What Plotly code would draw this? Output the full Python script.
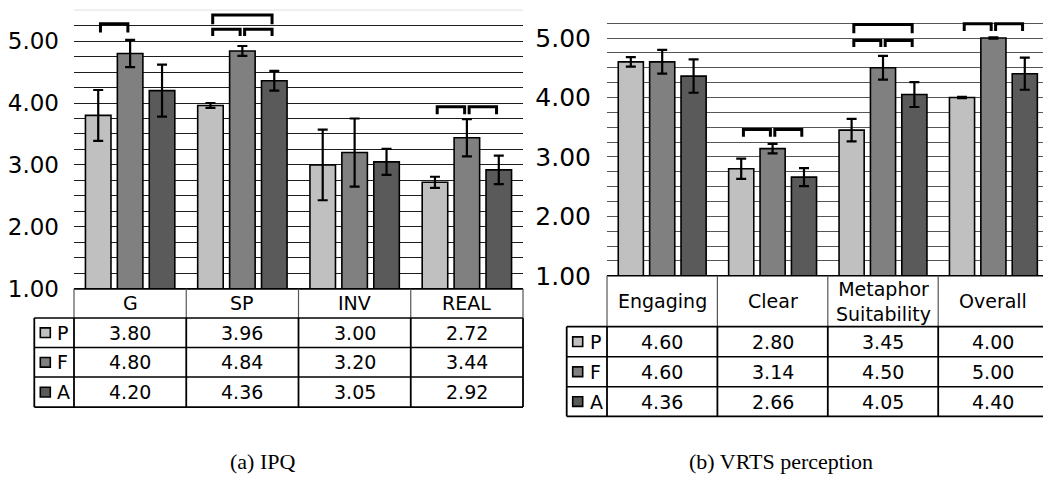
import numpy as np
import plotly.graph_objects as go

W, H = 1043, 489

# ---------------- data ----------------
series = ["P", "F", "A"]
series_colors = ["#c0c0c0", "#808080", "#5a5a5a"]

ipq_cats = ["G", "SP", "INV", "REAL"]
ipq_P = [3.80, 3.96, 3.00, 2.72]
ipq_F = [4.80, 4.84, 3.20, 3.44]
ipq_A = [4.20, 4.36, 3.05, 2.92]
ipq_err_P = [0.41, 0.04, 0.57, 0.09]
ipq_err_F = [0.22, 0.08, 0.55, 0.30]
ipq_err_A = [0.42, 0.16, 0.21, 0.23]

vrts_cats = ["Engaging", "Clear", "Metaphor<br>Suitability", "Overall"]
vrts_P = [4.60, 2.80, 3.45, 4.00]
vrts_F = [4.60, 3.14, 4.50, 5.00]
vrts_A = [4.36, 2.66, 4.05, 4.40]
vrts_err_P = [0.08, 0.17, 0.19, 0.01]
vrts_err_F = [0.20, 0.08, 0.20, 0.01]
vrts_err_A = [0.28, 0.15, 0.21, 0.27]

# significant pairs: (category index, series from, series to)
ipq_sig = [(0, 0, 1), (1, 0, 2), (1, 0, 1), (1, 1, 2), (3, 0, 1), (3, 1, 2)]
vrts_sig = [(1, 0, 1), (1, 1, 2), (2, 0, 2), (2, 0, 1), (2, 1, 2), (3, 0, 1), (3, 1, 2)]

captions = ["(a) IPQ", "(b) VRTS perception"]

# ---------------- style / layout ----------------
ipq_sig_y = [(5.28, 5.14), (5.42, 5.27), (5.19, 5.08), (5.19, 5.08), (3.94, 3.82), (3.94, 3.82)]
vrts_sig_y = [(3.46, 3.34), (3.46, 3.34), (5.23, 5.08), (4.96, 4.85), (4.96, 4.85),
              (5.24, 5.12), (5.24, 5.12)]

BARGAP = 0.147
BARGROUPGAP = 0.2
SLOT = (1 - BARGAP) / 3
FONT = "DejaVu Sans"
TABLE_FS = 19

# pixel geometry
L_X0, L_X1 = 74.0, 523.0
L_CATW = (L_X1 - L_X0) / 4
L_Y1, L_YT = 298.0, 10.4
R_X0, R_CATW = 607.0, 110.4
R_Y1, R_YT = 284.5, 8.6

L_ROWS = [298.0, 328.0, 358.5, 389.0, 420.0]
R_ROWS = [284.5, 337.0, 368.0, 399.0, 429.5]
L_LABEL_X = 34.3
R_LABEL_X = 566.7


def px(x):
    return x / W


def py(y):
    return 1 - y / H


fig = go.Figure()


def add_bars(vals, errs, xa, ya):
    for k, (s, c) in enumerate(zip(series, series_colors)):
        fig.add_trace(go.Bar(
            x=list(range(len(vals[k]))), y=[v - 1 for v in vals[k]], base=1,
            name=s, marker=dict(color=c, line=dict(color="black", width=1.6)),
            error_y=dict(type="data", array=errs[k], color="black", thickness=2.2, width=5),
            xaxis=xa, yaxis=ya, showlegend=False, offsetgroup=s,
        ))


add_bars([ipq_P, ipq_F, ipq_A], [ipq_err_P, ipq_err_F, ipq_err_A], "x", "y")
add_bars([vrts_P, vrts_F, vrts_A], [vrts_err_P, vrts_err_F, vrts_err_A], "x2", "y2")

shapes = []
annotations = []


# significance brackets
def add_brackets(sig, sig_y, xref, yref):
    for (c, a, b), (yt, yb) in zip(sig, sig_y):
        x0 = c + (a - 1) * SLOT + 0.02
        x1 = c + (b - 1) * SLOT - 0.02
        shapes.append(dict(type="path", xref=xref, yref=yref,
                           path=f"M {x0},{yb} L {x0},{yt} L {x1},{yt} L {x1},{yb}",
                           line=dict(color="black", width=3)))


add_brackets(ipq_sig, ipq_sig_y, "x", "y")
add_brackets(vrts_sig, vrts_sig_y, "x2", "y2")

# light top border on left plot
shapes.append(dict(type="line", xref="paper", yref="paper", x0=px(L_X0), x1=px(L_X1),
                   y0=py(L_YT), y1=py(L_YT), line=dict(color="#e0e0e0", width=1)))


def add_table(cats, vals, x_edges, label_x, rows, fsize):
    right = x_edges[-1]
    shapes.append(dict(type="line", xref="paper", yref="paper", x0=px(x_edges[0]), x1=px(right),
                       y0=py(rows[0]), y1=py(rows[0]), line=dict(color="black", width=1.6)))
    for xe in x_edges:
        shapes.append(dict(type="line", xref="paper", yref="paper", x0=px(xe), x1=px(xe),
                           y0=py(rows[0]), y1=py(rows[1]), line=dict(color="#555555", width=1.2)))
    for r in rows[1:]:
        shapes.append(dict(type="line", xref="paper", yref="paper", x0=px(label_x), x1=px(right),
                           y0=py(r), y1=py(r), line=dict(color="black", width=1.6)))
    for xe in [label_x] + list(x_edges):
        shapes.append(dict(type="line", xref="paper", yref="paper", x0=px(xe), x1=px(xe),
                           y0=py(rows[1]), y1=py(rows[-1]), line=dict(color="black", width=1.8)))
    for i, cat in enumerate(cats):
        xc = (x_edges[i] + x_edges[i + 1]) / 2
        annotations.append(dict(xref="paper", yref="paper", x=px(xc), y=py((rows[0] + rows[1]) / 2),
                                text=cat, showarrow=False, xanchor="center", yanchor="middle",
                                font=dict(family=FONT, size=fsize, color="black")))
    for k, s in enumerate(series):
        y0, y1 = rows[k + 1], rows[k + 2]
        yc = (y0 + y1) / 2
        shapes.append(dict(type="rect", xref="paper", yref="paper",
                           x0=px(label_x + 6), x1=px(label_x + 16), y0=py(yc - 5), y1=py(yc + 5),
                           fillcolor=series_colors[k], line=dict(color="black", width=1.6)))
        annotations.append(dict(xref="paper", yref="paper", x=px(label_x + 21), y=py(yc),
                                text=s, showarrow=False, xanchor="left", yanchor="middle",
                                font=dict(family=FONT, size=fsize, color="black")))
        for i, v in enumerate(vals[k]):
            xc = (x_edges[i] + x_edges[i + 1]) / 2
            annotations.append(dict(xref="paper", yref="paper", x=px(xc), y=py(yc),
                                    text=f"{v:.2f}", showarrow=False, xanchor="center",
                                    yanchor="middle",
                                    font=dict(family=FONT, size=fsize, color="black")))


l_edges = [L_X0 + i * L_CATW for i in range(len(ipq_cats) + 1)]
r_edges = [R_X0 + i * R_CATW for i in range(len(vrts_cats) + 1)]
add_table(ipq_cats, [ipq_P, ipq_F, ipq_A], l_edges, L_LABEL_X, L_ROWS, TABLE_FS)
add_table(vrts_cats, [vrts_P, vrts_F, vrts_A], r_edges, R_LABEL_X, R_ROWS, TABLE_FS)

for cap, xc in zip(captions, [262, 781]):
    annotations.append(dict(xref="paper", yref="paper", x=px(xc), y=py(476), text=cap,
                            showarrow=False, xanchor="center", yanchor="middle",
                            font=dict(family="Liberation Serif", size=22, color="black")))


def yticks(top_inclusive):
    vals = list(np.arange(1, 5.5 + 1e-9 if top_inclusive else 5.5 - 1e-9, 0.25))
    text = [f"{v:.2f}" if abs(v - round(v)) < 1e-9 else "" for v in vals]
    return vals, text


lv, lt = yticks(False)
rv, rt = yticks(True)

fig.update_layout(
    width=W, height=H, margin=dict(l=0, r=0, t=0, b=0),
    paper_bgcolor="white", plot_bgcolor="white",
    barmode="group", bargap=BARGAP, bargroupgap=BARGROUPGAP, showlegend=False,
    xaxis=dict(domain=[px(L_X0), px(L_X1)], range=[-0.5, 3.5], showticklabels=False,
               showgrid=False, zeroline=False, ticks="", showline=False),
    yaxis=dict(domain=[py(L_Y1), py(L_YT)], range=[1, 5.5], tickvals=lv, ticktext=lt,
               showgrid=True, gridcolor="#1e1e1e", gridwidth=1, zeroline=False, ticks="",
               showline=False, ticklabelstandoff=14,
               tickfont=dict(family=FONT, size=23, color="black")),
    xaxis2=dict(domain=[px(R_X0), 1.0], range=[-0.5, -0.5 + (W - R_X0) / R_CATW],
                showticklabels=False, showgrid=False, zeroline=False, ticks="",
                showline=False, anchor="y2"),
    yaxis2=dict(domain=[py(R_Y1), py(R_YT)], range=[1, 5.5], tickvals=rv, ticktext=rt,
                showgrid=True, gridcolor="#555555", gridwidth=1, zeroline=False, ticks="",
                showline=False, ticklabelstandoff=15, anchor="x2",
                tickfont=dict(family=FONT, size=25, color="black")),
    shapes=shapes, annotations=annotations,
)

fig.write_html("out.html", config={"displayModeBar": False},
               post_script="document.body.style.margin='0';document.body.style.overflow='hidden';")
